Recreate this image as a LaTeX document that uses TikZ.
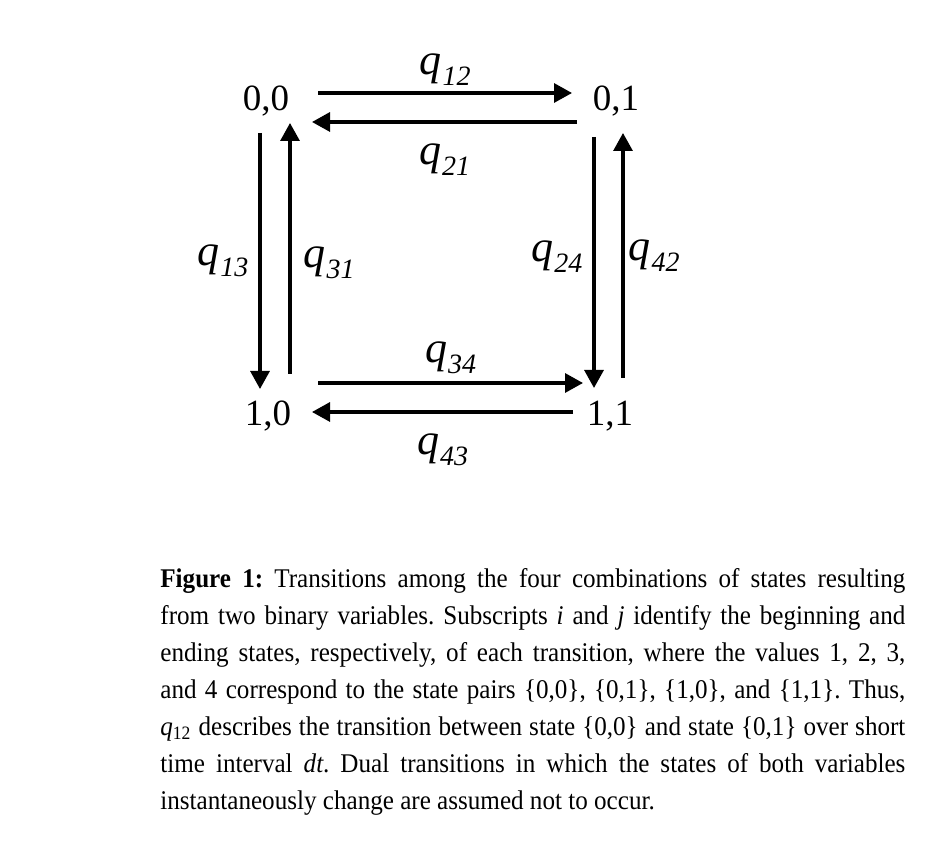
\documentclass[tikz,border=0pt]{standalone}
\usepackage{fontspec}
\setmainfont{Liberation Serif}
\newfontfamily\capfont{Liberation Serif}[FakeStretch=0.93]
\usetikzlibrary{arrows.meta}
\newcommand\rate[1]{\textit{q}\kern0.5pt\raisebox{-0.55ex}{\fontsize{14}{14}\selectfont\textit{#1}}}
\tikzset{state/.style={inner sep=0pt, anchor=base, font=\fontsize{18.5}{18.5}\selectfont},
    trans/.style={line width=1.6pt, -{Triangle[length=9pt,width=9.5pt]}},
    rate/.style={inner sep=0pt, font=\fontsize{22}{22}\selectfont},
    caption/.style={inner sep=0pt, anchor=north west, text width=372.5pt, align=justify,
        font=\capfont\fontsize{13.5}{18.5}\selectfont}}

\begin{document}
\begin{tikzpicture}[x=0.5pt,y=-0.5pt]
    \useasboundingbox (0,0) rectangle (931,849);
    \node[state] (n00) at (266,111) {0,0};
    \node[state] (n01) at (616,111) {0,1};
    \node[state] (n10) at (268,426) {1,0};
    \node[state] (n11) at (610,426) {1,1};
    % horizontal pairs
    \draw[trans] ([shift={(52,-18)}]n00.base) -- ([shift={(-44,-18)}]n01.base)
        node[rate, midway, above=3pt] {\rate{12}};
    \draw[trans] ([shift={(-39,11)}]n01.base) -- ([shift={(46,11)}]n00.base)
        node[rate, midway, below=10pt] {\rate{21}};
    \draw[trans] ([shift={(50,-43)}]n10.base) -- ([shift={(-27,-43)}]n11.base)
        node[rate, midway, above=4pt] {\rate{34}};
    \draw[trans] ([shift={(-37,-14)}]n11.base) -- ([shift={(44,-14)}]n10.base)
        node[rate, midway, below=10pt] {\rate{43}};
    % vertical pairs
    \draw[trans] ([shift={(-6,22)}]n00.base) -- ([shift={(-8,-37)}]n10.base)
        node[rate, midway, left=5pt] {\rate{13}};
    \draw[trans] ([shift={(22,-52)}]n10.base) -- ([shift={(24,12)}]n00.base)
        node[rate, midway, right=6pt, yshift=-7pt] {\rate{31}};
    \draw[trans] ([shift={(-22,26)}]n01.base) -- ([shift={(-16,-38)}]n11.base)
        node[rate, midway, left=5pt, yshift=3pt] {\rate{24}};
    \draw[trans] ([shift={(13,-48)}]n11.base) -- ([shift={(7,22)}]n01.base)
        node[rate, midway, right=2pt] {\rate{42}};
    \node[caption] (cap) at (160,568) {\frenchspacing\textbf{Figure 1:} Transitions among the four combinations of states resulting\linebreak
        from two binary variables. Subscripts \textit{i} and \textit{j} identify the beginning and\linebreak
        ending states, respectively, of each transition, where the values 1, 2, 3,\linebreak
        and 4 correspond to the state pairs \{0,0\}, \{0,1\}, \{1,0\}, and \{1,1\}. Thus,\linebreak
        \textit{q}\textsubscript{12} describes the transition between state \{0,0\} and state \{0,1\} over short\linebreak
        time interval \textit{dt}. Dual transitions in which the states of both variables\linebreak
        instantaneously change are assumed not to occur.};
\end{tikzpicture}
\end{document}
